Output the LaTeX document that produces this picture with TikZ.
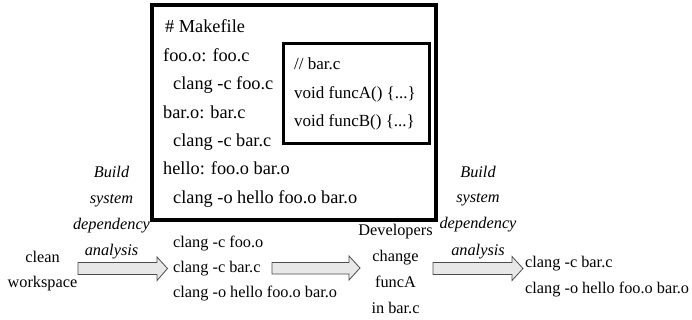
\documentclass[tikz,border=0pt]{standalone}
\usepackage{fontspec}
\setmainfont{Liberation Serif}
\begin{document}
\begin{tikzpicture}[x=1pt,y=-1pt,
  boxtxt/.style={anchor=base west,inner sep=0pt,font=\fontsize{18.3}{22}\selectfont},
  innertxt/.style={anchor=base west,inner sep=0pt,font=\fontsize{17}{21}\selectfont},
  flowl/.style={anchor=base west,inner sep=0pt,font=\fontsize{16.3}{20}\selectfont},
  flowc/.style={anchor=base,inner sep=0pt,font=\fontsize{16.3}{20}\selectfont},
  flowi/.style={anchor=base,inner sep=0pt,font=\fontsize{16.3}{20}\selectfont\itshape},
  outerbox/.style={draw=black,line width=4pt},
  innerbox/.style={draw=black,line width=3pt},
  blockarrow/.style={draw=black!70,fill=black!9,line width=0.8pt,line join=miter}]
\useasboundingbox (0,0) rectangle (692,320);
% outer Makefile box
\draw[outerbox] (152,5.5) rectangle (436,220);
\node[boxtxt] (m1) at (165,33) {\# Makefile};
\node[boxtxt] (m2) at (163,62) {foo.o: foo.c};
\node[boxtxt] (m3) at (173,90) {clang -c foo.c};
\node[boxtxt] (m4) at (163,119) {bar.o: bar.c};
\node[boxtxt] (m5) at (173,147) {clang -c bar.c};
\node[boxtxt] (m6) at (163,175) {hello: foo.o bar.o};
\node[boxtxt] (m7) at (173,204) {clang -o hello foo.o bar.o};
% inner bar.c box
\draw[innerbox] (283.5,44) rectangle (429.5,143.5);
\node[innertxt] (b1) at (294,70) {// bar.c};
\node[innertxt] (b2) at (294,98.5) {void funcA() \{...\}};
\node[innertxt] (b3) at (294,127) {void funcB() \{...\}};
% left labels
\node[flowc] (c1) at (42.5,262) {clean};
\node[flowc] (c2) at (42.5,287) {workspace};
\node[flowi] (a1) at (111.5,178) {Build};
\node[flowi] (a2) at (111.5,203.5) {system};
\node[flowi] (a3) at (111.5,229) {dependency};
\node[flowi] (a4) at (111.5,255) {analysis};
% middle commands
\node[flowl] (k1) at (173,247) {clang -c foo.o};
\node[flowl] (k2) at (173,272) {clang -c bar.c};
\node[flowl] (k3) at (173,297.5) {clang -o hello foo.o bar.o};
% developers
\node[flowc] (d1) at (395.5,235) {Developers};
\node[flowc] (d2) at (395.5,261) {change};
\node[flowc] (d3) at (395.5,287) {funcA};
\node[flowc] (d4) at (395.5,313) {in bar.c};
% second analysis
\node[flowi] (e1) at (478,177.5) {Build};
\node[flowi] (e2) at (478,203) {system};
\node[flowi] (e3) at (478,228.5) {dependency};
\node[flowi] (e4) at (478,255) {analysis};
% right commands
\node[flowl] (r1) at (525,267) {clang -c bar.c};
\node[flowl] (r2) at (525,293) {clang -o hello foo.o bar.o};
% block arrows
\draw[blockarrow] (78,262.5) -- (157,262.5) -- (157,257) -- (167.5,268.5) -- (157,280.5) -- (157,274.5) -- (78,274.5) -- cycle;
\draw[blockarrow] (272,262.5) -- (349,262.5) -- (349,256) -- (360,268) -- (349,280) -- (349,274) -- (272,274) -- cycle;
\draw[blockarrow] (433,262.5) -- (512,262.5) -- (512,256.5) -- (523,268.5) -- (512,280.5) -- (512,274.5) -- (433,274.5) -- cycle;
\end{tikzpicture}
\end{document}
